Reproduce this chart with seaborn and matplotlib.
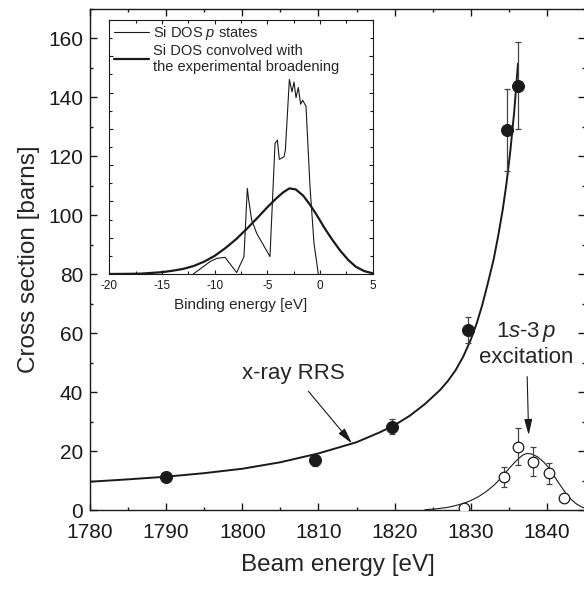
import numpy as np
import pandas as pd
import matplotlib
matplotlib.use("Agg")
import matplotlib.pyplot as plt
from matplotlib.ticker import MultipleLocator, NullFormatter
import seaborn as sns

# RRS data (filled circles) and its fit curve
rrs_x = [1790, 1809.6, 1819.6, 1829.6, 1834.7, 1836.2]
rrs_y = [11.3, 16.8, 28.3, 61, 128.8, 144]
rrs_err = [1.0, 1.8, 2.6, 4.4, 13.9, 14.7]

rrs_fit_x = [1780, 1785, 1790, 1795, 1800, 1805, 1810, 1815, 1818, 1820, 1822, 1824,
             1826, 1827, 1828, 1829, 1830, 1830.8, 1831.5, 1832.2, 1833, 1833.6,
             1834.2, 1834.7, 1835.2, 1835.7, 1836.2]
rrs_fit_y = [9.6, 10.4, 11.3, 12.5, 14.0, 16.2, 19.2, 23.0, 26.3, 28.8, 32.0, 36.0,
             40.8, 43.8, 47.4, 52.0, 57.8, 63.5, 69.5, 76.5, 85, 93,
             102, 111, 122, 135, 151.5]

# 1s-3p excitation (open circles) and gaussian fit
exc_x = [1829.1, 1834.3, 1836.2, 1838.2, 1840.3, 1842.3]
exc_y = [0.8, 11.3, 21.5, 16.4, 12.4, 4.0]
exc_err = [0.8, 3.4, 6.4, 4.9, 3.7, 1.0]

exc_fit_x = [1824, 1825.5, 1827, 1828, 1829, 1830, 1831, 1832, 1833, 1834, 1835,
             1836, 1836.8, 1837.4, 1838, 1838.8, 1839.6, 1840.3, 1841, 1841.7,
             1842.4, 1843.1, 1843.8, 1844.5, 1845]
exc_fit_y = [0.1, 0.4, 0.9, 1.5, 2.2, 3.2, 4.5, 6.2, 8.3, 10.9, 14.0,
             16.8, 18.6, 19.2, 19.0, 18.0, 16.2, 14.2, 11.3, 8.6,
             6.0, 3.8, 2.2, 1.1, 0.6]

# inset: Si DOS p states and convolved DOS
dos_x = [-12.03, -10.44, -9.81, -9.02, -7.91, -7.22, -6.90, -6.77, -6.49, -6.01, -5.38,
         -4.75, -4.27, -4.05, -3.86, -3.42, -3.29, -2.91, -2.66, -2.47, -2.28, -2.06,
         -1.84, -1.65, -1.33, -0.95, -0.57, -0.16]
dos_y = [0, 0.34, 0.43, 0.46, 0.04, 0.48, 2.36, 2.04, 1.49, 1.12, 0.80,
         0.48, 3.60, 3.69, 3.16, 3.23, 3.41, 5.36, 5.02, 5.29, 4.86, 5.14,
         4.68, 4.79, 4.62, 2.40, 0.84, 0]

conv_x = [-20, -18, -17, -16, -15, -14, -13, -12, -11, -10, -9, -8, -7, -6, -5,
          -4.2, -3.5, -2.9, -2.3, -1.6, -1, -0.3, 0.4, 1.1, 1.9, 2.7, 3.4, 4.2, 5]
conv_y = [0, 0.005, 0.01, 0.03, 0.05, 0.09, 0.14, 0.22, 0.34, 0.50, 0.71, 0.95, 1.23,
          1.53, 1.84, 2.07, 2.25, 2.36, 2.33, 2.16, 1.93, 1.62, 1.28, 0.97, 0.65, 0.38,
          0.20, 0.08, 0.02]

sns.set_style("ticks")
plt.rcParams['font.family'] = ['Liberation Sans', 'DejaVu Sans']
plt.rcParams['mathtext.fontset'] = 'custom'
plt.rcParams['mathtext.rm'] = 'Liberation Sans'
plt.rcParams['mathtext.it'] = 'Liberation Sans:italic'
plt.rcParams['axes.unicode_minus'] = False

ink = '#1a1a1a'

fig = plt.figure(figsize=(5.84, 5.89), dpi=100)
W, H = 584, 589
ax = fig.add_axes([90 / W, 1 - 510 / H, 495 / W, 501 / H])

sns.lineplot(x=rrs_fit_x, y=rrs_fit_y, ax=ax, color=ink, lw=1.4)
sns.lineplot(x=exc_fit_x, y=exc_fit_y, ax=ax, color=ink, lw=0.8)

ax.errorbar(rrs_x, rrs_y, yerr=rrs_err, fmt='none', ecolor='#444444',
            elinewidth=0.9, capsize=2.5, capthick=0.9, zorder=3)
ax.errorbar(exc_x, exc_y, yerr=exc_err, fmt='none', ecolor='#444444',
            elinewidth=0.9, capsize=2.5, capthick=0.9, zorder=3)
sns.scatterplot(x=rrs_x, y=rrs_y, ax=ax, s=75, color=ink, edgecolor=ink, zorder=4)
sns.scatterplot(x=exc_x, y=exc_y, ax=ax, s=58, facecolor='white', edgecolor=ink,
                linewidth=0.9, zorder=4)

ax.set_xlim(1780, 1845)
ax.set_ylim(0, 170)
ax.xaxis.set_major_locator(MultipleLocator(10))
ax.xaxis.set_minor_locator(MultipleLocator(5))
ax.yaxis.set_major_locator(MultipleLocator(20))
ax.yaxis.set_minor_locator(MultipleLocator(10))
ax.tick_params(which='both', direction='in', top=True, right=True, colors=ink,
               labelsize=15, width=1)
ax.tick_params(which='major', length=5, pad=5)
ax.tick_params(axis='x', which='major', pad=9)
ax.tick_params(which='minor', length=2.5)
for s in ax.spines.values():
    s.set_linewidth(1)
    s.set_color(ink)
ax.set_xlabel('Beam energy [eV]', fontsize=17.5, labelpad=9)
ax.set_ylabel('Cross section [barns]', fontsize=17.5, labelpad=6)

ax.annotate('x-ray RRS', xy=(1814.4, 22.6), xytext=(1806.7, 46.4),
            ha='center', va='center', fontsize=16,
            arrowprops=dict(arrowstyle='-|>,head_length=0.6,head_width=0.15',
                            color=ink, lw=0.8, shrinkA=4, shrinkB=0))
ax.annotate('1$\\it{s}$-3$\\,\\it{p}$\nexcitation', xy=(1837.6, 25.4), xytext=(1837.3, 56.3),
            ha='center', va='center', fontsize=16, linespacing=1.15,
            arrowprops=dict(arrowstyle='-|>,head_length=0.6,head_width=0.15',
                            color=ink, lw=0.8, shrinkA=4, shrinkB=0))

# inset
ins = fig.add_axes([109.3 / W, 1 - 274 / H, 263.4 / W, 254 / H])
sns.lineplot(x=dos_x, y=dos_y, ax=ins, color=ink, lw=0.8, label='Si DOS $\\it{p}$ states')
sns.lineplot(x=conv_x, y=conv_y, ax=ins, color=ink, lw=1.6,
             label='Si DOS convolved with\nthe experimental broadening')
ins.set_xlim(-20, 5)
ins.set_ylim(0, 7)
ins.xaxis.set_major_locator(MultipleLocator(5))
ins.xaxis.set_minor_locator(MultipleLocator(2.5))
ins.yaxis.set_major_locator(MultipleLocator(1))
ins.yaxis.set_minor_locator(MultipleLocator(0.5))
ins.yaxis.set_major_formatter(NullFormatter())
ins.tick_params(which='both', direction='in', top=True, right=True, colors=ink,
                labelsize=8.5, width=0.8)
ins.tick_params(which='major', length=3, pad=4)
ins.tick_params(which='minor', length=2)
for s in ins.spines.values():
    s.set_linewidth(0.8)
    s.set_color(ink)
ins.set_xlabel('Binding energy [eV]', fontsize=11, labelpad=5)
ins.set_ylabel('')
ins.legend(loc='upper left', frameon=False, fontsize=10.5, handlelength=2.4,
           handletextpad=0.3, labelspacing=0.1, borderpad=0.2, borderaxespad=0.1)

fig.savefig('out.png', dpi=100)
